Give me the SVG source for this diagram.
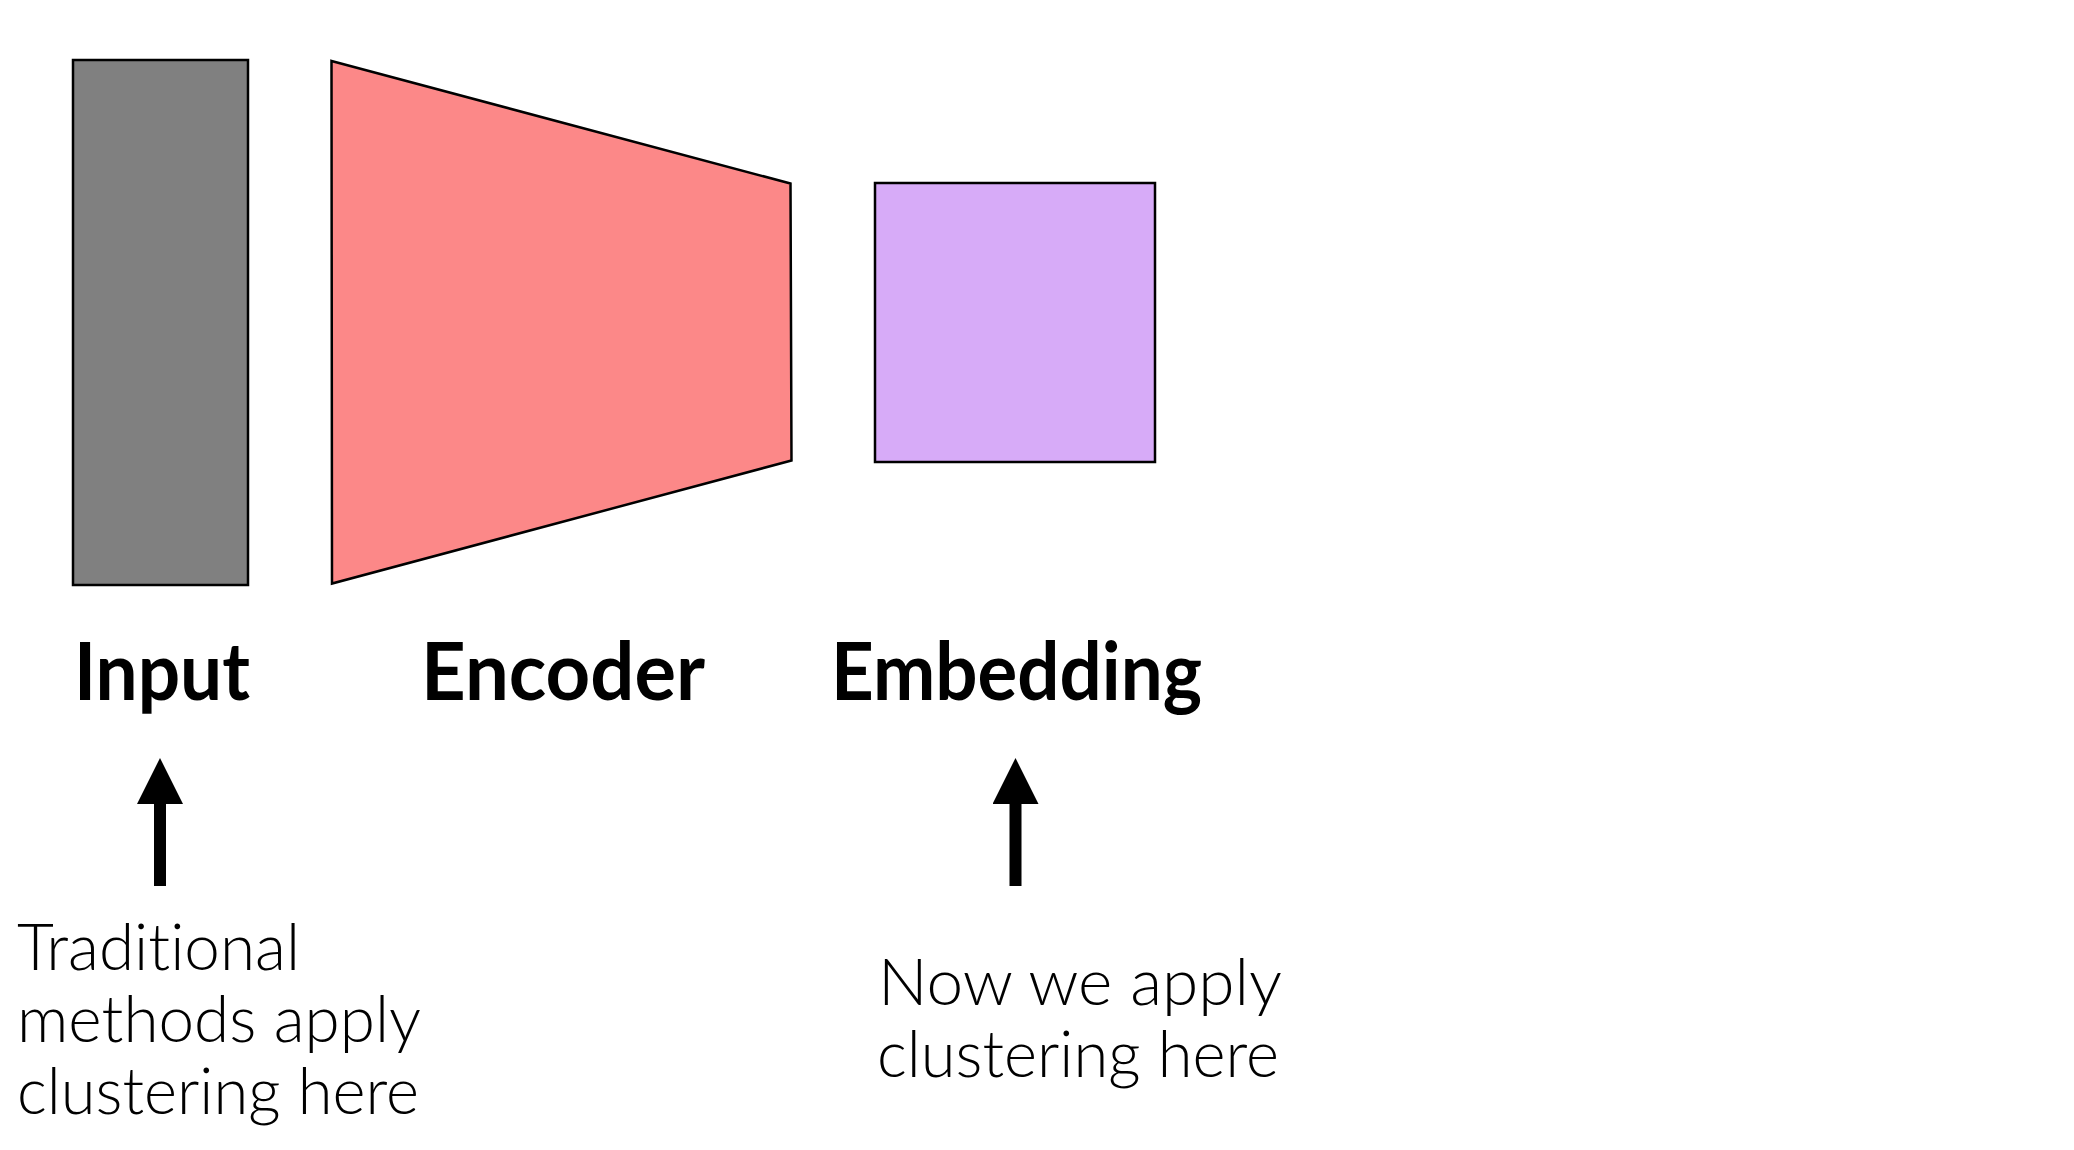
<svg xmlns="http://www.w3.org/2000/svg" width="2074" height="1150" viewBox="0 0 2074 1150">
<style>
.shape{stroke:#000;stroke-width:2.5;stroke-linejoin:miter}
.label{font-family:Lato,"Open Sans","Liberation Sans",sans-serif;font-weight:700;font-size:80px;fill:#000;font-variant-ligatures:none}
.note{font-family:Lato,"Open Sans","Liberation Sans",sans-serif;font-weight:300;font-size:65px;fill:#000;font-variant-ligatures:none}
</style>
<defs>
<marker id="head" viewBox="0 0 47 46" refX="0" refY="23" markerWidth="47" markerHeight="46" markerUnits="userSpaceOnUse" orient="auto">
<path d="M0,0 L46,23 L0,46 Z" fill="#000"/>
</marker>
</defs>
<rect width="2074" height="1150" fill="#fff"/>
<g id="input">
<rect class="shape" x="73" y="60" width="175" height="525" fill="#808080"/>
<text class="label" x="74" y="700" textLength="176" lengthAdjust="spacingAndGlyphs">Input</text>
</g>
<g id="encoder">
<polygon class="shape" points="331.5,61 790.5,183.5 791.5,460.5 332,583.5" fill="#FC8888"/>
<text class="label" x="421" y="700" textLength="284" lengthAdjust="spacingAndGlyphs">Encoder</text>
</g>
<g id="embedding">
<rect class="shape" x="875" y="183" width="280" height="279" fill="#D7ABF8"/>
<text class="label" x="831" y="700" textLength="371" lengthAdjust="spacingAndGlyphs">Embedding</text>
</g>
<g id="note-traditional">
<text class="note" x="17" y="970" textLength="283" lengthAdjust="spacingAndGlyphs">Traditional</text>
<text class="note" x="17" y="1042" textLength="404" lengthAdjust="spacingAndGlyphs">methods apply</text>
<text class="note" x="17" y="1114" textLength="402" lengthAdjust="spacingAndGlyphs">clustering here</text>
</g>
<g id="note-now">
<text class="note" x="878" y="1005" textLength="404" lengthAdjust="spacingAndGlyphs">Now we apply</text>
<text class="note" x="877" y="1077" textLength="402" lengthAdjust="spacingAndGlyphs">clustering here</text>
</g>
<g id="connectors">
<line x1="160" y1="886" x2="160" y2="804" stroke="#000" stroke-width="12" marker-end="url(#head)"/>
<line x1="1015.5" y1="886" x2="1015.5" y2="804" stroke="#000" stroke-width="12" marker-end="url(#head)"/>
</g>
</svg>
